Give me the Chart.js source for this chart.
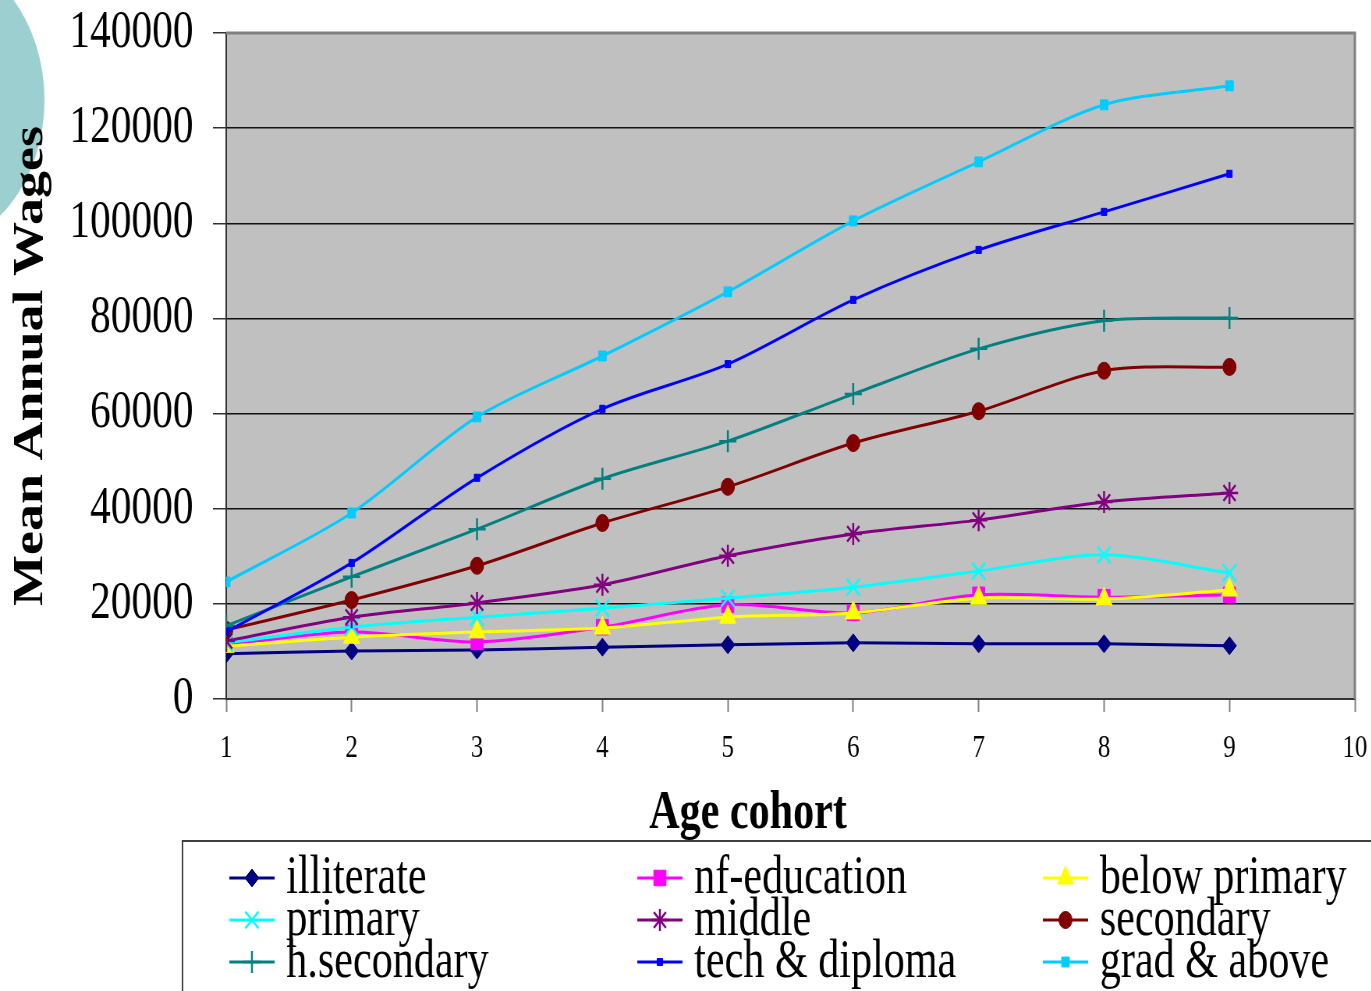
<!DOCTYPE html>
<html>
<head>
<meta charset="utf-8">
<title>Mean Annual Wages by Age cohort</title>
<script src="https://cdn.jsdelivr.net/npm/chart.js@4/dist/chart.umd.min.js"></script>
<style>
  html, body { margin: 0; padding: 0; background: #fff; overflow: hidden; width: 1371px; height: 991px; }
  /* the chart is laid out on a wider canvas and squeezed horizontally */
  #wrap { position: absolute; left: 0; top: 0; width: 1758px; height: 991px; transform: scaleX(0.78); transform-origin: 0 0; }
  canvas { display: block; }
</style>
</head>
<body>
<div id="wrap"><canvas id="wages" width="1758" height="991" style="width:1758px;height:991px"></canvas></div>
<script>
// Age cohorts on the x axis
const cohorts = [1, 2, 3, 4, 5, 6, 7, 8, 9];

// Mean annual wages by education level
const illiterate   = [9500, 10100, 10300, 10900, 11400, 11800, 11600, 11600, 11200];
const nfEducation  = [11400, 14100, 12000, 15100, 19800, 18100, 21900, 21400, 21900];
const belowPrimary = [11100, 13000, 14100, 14900, 17200, 18100, 21200, 21000, 22900];
const primary      = [11800, 15100, 17200, 19100, 21200, 23500, 26900, 30300, 26500];
const middle       = [12200, 17200, 20200, 24000, 30100, 34700, 37600, 41400, 43300];
const secondary    = [14500, 20800, 28000, 37000, 44600, 53800, 60500, 69000, 69800];
const hSecondary   = [15400, 25700, 35700, 46300, 54200, 64100, 73600, 79500, 80100];
const techDiploma  = [14100, 28600, 46500, 61000, 70400, 83900, 94400, 102400, 110400];
const gradAbove    = [24600, 39100, 59300, 72100, 85600, 100500, 112900, 124900, 128900];

const seriesLabels = ['illiterate', 'nf-education', 'below primary', 'primary', 'middle',
                      'secondary', 'h.secondary', 'tech & diploma', 'grad & above'];
const seriesValues = [illiterate, nfEducation, belowPrimary, primary, middle,
                      secondary, hSecondary, techDiploma, gradAbove];

// y axis ticks
const yMin = 0, yMax = 140000, yStep = 20000;
// x axis ticks
const xMin = 1, xMax = 10;

const SERIF = "'Liberation Serif', 'Times New Roman', serif";

const styles = [
  { color: '#000080', pointStyle: 'rectRot',  radius: 9,   pw: 1 },
  { color: '#FF00FF', pointStyle: 'rect',     radius: 11,  pw: 1 },
  { color: '#FFFF00', pointStyle: 'triangle', radius: 12,  pw: 1 },
  { color: '#00FFFF', pointStyle: 'crossRot', radius: 12,  pw: 2.5 },
  { color: '#800080', pointStyle: 'star',     radius: 11,  pw: 2.5 },
  { color: '#800000', pointStyle: 'circle',   radius: 8.5, pw: 1 },
  { color: '#008080', pointStyle: 'cross',    radius: 11,  pw: 2.5 },
  { color: '#0000FF', pointStyle: 'rect',     radius: 5,   pw: 1 },
  { color: '#00CCFF', pointStyle: 'rect',     radius: 7,   pw: 1 }
];

const datasets = seriesLabels.map((label, i) => ({
  label,
  data: cohorts.map((c, j) => ({ x: c, y: seriesValues[i][j] })),
  borderColor: styles[i].color,
  backgroundColor: styles[i].color,
  borderWidth: 3,
  tension: 0.3,
  pointStyle: styles[i].pointStyle,
  pointRadius: styles[i].radius,
  pointBorderWidth: styles[i].pw,
  pointBorderColor: styles[i].color,
  pointBackgroundColor: styles[i].color,
  order: seriesLabels.length - i,
  fill: false
}));

// Decorative disc, grey plot area and its frame
const backdrop = {
  id: 'backdrop',
  beforeDraw(chart) {
    const { ctx, chartArea: a } = chart;
    ctx.save();
    ctx.fillStyle = '#9CCFCF';
    ctx.beginPath();
    ctx.arc(-89, 100, 146, 0, Math.PI * 2);
    ctx.fill();
    ctx.fillStyle = '#C0C0C0';
    ctx.fillRect(a.left, a.top, a.right - a.left, a.bottom - a.top);
    ctx.restore();
  },
  beforeDatasetsDraw(chart) {
    const { ctx, chartArea: a } = chart;
    ctx.save();
    ctx.strokeStyle = '#808080';
    ctx.lineWidth = 3;
    ctx.beginPath();
    ctx.moveTo(a.left, a.top);
    ctx.lineTo(a.right, a.top);
    ctx.lineTo(a.right, a.bottom);
    ctx.stroke();
    ctx.restore();
  }
};

// x axis title and the boxed three-column key
const keyAndTitle = {
  id: 'keyAndTitle',
  afterDraw(chart) {
    const { ctx } = chart;
    ctx.save();
    ctx.fillStyle = '#000';
    ctx.font = 'bold 54px ' + SERIF;
    ctx.textAlign = 'center';
    ctx.textBaseline = 'alphabetic';
    ctx.fillText('Age cohort', 959, 828);

    ctx.strokeStyle = '#404040';
    ctx.lineWidth = 2;
    ctx.beginPath();
    ctx.moveTo(234, 1000);
    ctx.lineTo(234, 841);
    ctx.lineTo(1770, 841);
    ctx.stroke();

    const colX = [294, 817, 1337];
    const rowY = [878, 920, 962];
    const lineLen = 58, textGap = 15;
    ctx.font = '54px ' + SERIF;
    ctx.textAlign = 'left';
    chart.data.datasets.forEach((ds, i) => {
      const x0 = colX[i % 3];
      const y = rowY[Math.floor(i / 3)];
      ctx.strokeStyle = ds.borderColor;
      ctx.lineWidth = 3;
      ctx.beginPath();
      ctx.moveTo(x0, y);
      ctx.lineTo(x0 + lineLen, y);
      ctx.stroke();
      ctx.fillStyle = ds.pointBackgroundColor;
      ctx.strokeStyle = ds.pointBorderColor;
      ctx.lineWidth = ds.pointBorderWidth;
      Chart.helpers.drawPoint(ctx, {
        pointStyle: ds.pointStyle, radius: ds.pointRadius, rotation: 0, borderWidth: ds.pointBorderWidth
      }, x0 + lineLen / 2, y);
      ctx.fillStyle = '#000';
      ctx.fillText(ds.label, x0 + lineLen + textGap, y + 15);
    });
    ctx.restore();
  }
};

new Chart(document.getElementById('wages'), {
  type: 'line',
  data: { datasets },
  plugins: [backdrop, keyAndTitle],
  options: {
    responsive: false,
    animation: false,
    devicePixelRatio: 1,
    layout: { padding: { left: 0, top: 33, right: 21, bottom: 0 } },
    plugins: { legend: { display: false }, tooltip: { enabled: false } },
    scales: {
      x: {
        type: 'linear',
        min: xMin, max: xMax,
        afterFit(scale) {
          scale.height = 292;
          scale.paddingLeft = 0;
          scale.paddingRight = 10;
        },
        ticks: {
          stepSize: 1,
          color: '#000',
          padding: 17,
          font: { family: SERIF, size: 32 }
        },
        grid: { drawOnChartArea: false, drawTicks: true, tickLength: 13, tickColor: '#808080', tickWidth: 2 },
        border: { color: '#333', width: 2 }
      },
      y: {
        min: yMin, max: yMax,
        afterFit(scale) {
          scale.width = 290;
          scale.paddingTop = 20;
          scale.paddingBottom = 20;
        },
        ticks: {
          stepSize: yStep,
          color: '#000',
          padding: 25,
          font: { family: SERIF, size: 53 },
          callback: (v) => String(v)
        },
        grid: {
          color: (c) => (c.tick && c.tick.value === yMax) ? '#808080' : '#111',
          lineWidth: 1.5,
          tickLength: 17,
          tickColor: '#333'
        },
        border: { color: '#333', width: 2 },
        title: {
          display: true,
          text: 'Mean Annual Wages',
          color: '#000',
          padding: { top: 8, bottom: 0 },
          font: { family: SERIF, size: 54, weight: 'bold' }
        }
      }
    }
  }
});
</script>
</body>
</html>
